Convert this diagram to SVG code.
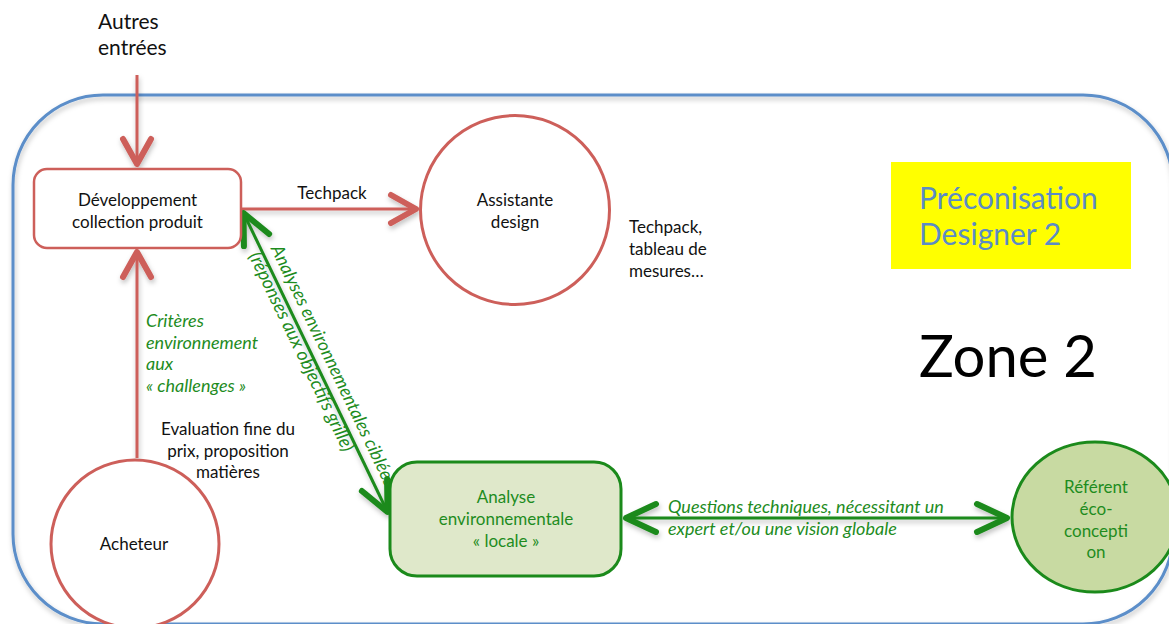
<svg xmlns="http://www.w3.org/2000/svg" width="1169" height="624" viewBox="0 0 1169 624">
<defs>
<style>
.t{font-family:Lato,"Open Sans","Liberation Sans",sans-serif;font-size:17px;fill:#111}
.c{text-anchor:middle}
.g{fill:#1e8c1e}
.i{font-style:italic;font-size:18px}
.red{fill:none;stroke:#cd5f5a;stroke-width:3}
.grn{fill:none;stroke:#1b8a1b;stroke-width:3}
</style>
<filter id="sh" x="-10%" y="-10%" width="120%" height="130%">
<feDropShadow dx="1" dy="3" stdDeviation="2.5" flood-color="#000" flood-opacity="0.25"/>
</filter>
<marker id="chevR" markerUnits="userSpaceOnUse" viewBox="-36 -20 42 40" refX="0" refY="0" markerWidth="42" markerHeight="40" orient="auto-start-reverse">
<path d="M-25,-14 L0,0 L-25,14" fill="none" stroke="#cd5f5a" stroke-width="6" stroke-linecap="round" stroke-linejoin="round"/>
</marker>
<marker id="chevG" markerUnits="userSpaceOnUse" viewBox="-40 -20 46 40" refX="0" refY="0" markerWidth="46" markerHeight="40" orient="auto-start-reverse">
<path d="M-30,-14 L0,0 L-30,14" fill="none" stroke="#1b8a1b" stroke-width="6" stroke-linecap="round" stroke-linejoin="round"/>
</marker>
</defs>
<rect width="1169" height="624" fill="#fff"/>

<g id="zone-frame">
<rect x="13" y="95" width="1160" height="529" rx="90" fill="none" stroke="#5b8ec9" stroke-width="3" filter="url(#sh)"/>
</g>

<g id="connectors">
<g filter="url(#sh)">
<line class="red" x1="137" y1="75" x2="137" y2="164" marker-end="url(#chevR)"/>
<line class="red" x1="137" y1="458" x2="137" y2="252" marker-end="url(#chevR)"/>
<line class="red" x1="241" y1="209" x2="416" y2="209" marker-end="url(#chevR)"/>
<line class="grn" x1="243.5" y1="213" x2="387.5" y2="512" marker-start="url(#chevG)" marker-end="url(#chevG)"/>
<line class="grn" x1="626" y1="518" x2="1007" y2="518" marker-start="url(#chevG)" marker-end="url(#chevG)"/>
</g>
<text class="t" x="98" y="29" style="font-size:21px">Autres</text>
<text class="t" x="98" y="55" style="font-size:21px">entrées</text>
<text class="t c" x="332" y="199">Techpack</text>
<text class="t g i" x="146" y="327">Critères</text>
<text class="t g i" x="146" y="349">environnement</text>
<text class="t g i" x="146" y="370">aux</text>
<text class="t g i" x="146" y="392">« challenges »</text>
<text class="t c" x="228" y="435">Evaluation fine du</text>
<text class="t c" x="228" y="457">prix, proposition</text>
<text class="t c" x="228" y="478">matières</text>
<g transform="translate(242,210) rotate(64.27)">
<text class="t g i" x="47" y="-9">Analyses environnementales ciblées</text>
<text class="t g i" x="44" y="14" style="font-size:18.5px">(réponses aux objectifs grille)</text>
</g>
<text class="t g i" x="668" y="513">Questions techniques, nécessitant un</text>
<text class="t g i" x="668" y="535">expert et/ou une vision globale</text>
</g>

<g id="node-developpement">
<rect x="34" y="169" width="207" height="79" rx="13" fill="#fff" stroke="#cd5f5a" stroke-width="2.5"/>
<text class="t c" x="137.5" y="206">Développement</text>
<text class="t c" x="137.5" y="228">collection produit</text>
</g>

<g id="node-assistante">
<circle cx="515" cy="210" r="94.5" fill="#fff" stroke="#cd5f5a" stroke-width="3"/>
<text class="t c" x="515" y="206">Assistante</text>
<text class="t c" x="515" y="228">design</text>
</g>

<g id="note-techpack">
<text class="t" x="629" y="233">Techpack,</text>
<text class="t" x="629" y="255">tableau de</text>
<text class="t" x="629" y="277">mesures…</text>
</g>

<g id="node-acheteur">
<circle cx="135" cy="544" r="84" fill="#fff" stroke="#cd5f5a" stroke-width="3"/>
<text class="t c" x="134" y="550">Acheteur</text>
</g>

<g id="node-analyse">
<rect x="390" y="462" width="231" height="114" rx="27" fill="#dfe8ca" stroke="#1b8a1b" stroke-width="3"/>
<text class="t c g" x="506" y="503">Analyse</text>
<text class="t c g" x="506" y="525">environnementale</text>
<text class="t c g" x="506" y="547">« locale »</text>
</g>

<g id="node-referent">
<ellipse cx="1095" cy="517" rx="83" ry="75" fill="#c8daa2" stroke="#1b8a1b" stroke-width="3"/>
<text class="t c g" x="1096" y="493">Référent</text>
<text class="t c g" x="1096" y="515">éco-</text>
<text class="t c g" x="1096" y="537">concepti</text>
<text class="t c g" x="1096" y="558">on</text>
</g>

<g id="label-preconisation">
<rect x="891" y="162" width="240" height="107" fill="#ffff00"/>
<text class="t" x="919" y="209" style="font-size:30px;fill:#5b8bc6">Préconisation</text>
<text class="t" x="919" y="245" style="font-size:30px;fill:#5b8bc6">Designer 2</text>
</g>

<g id="label-zone">
<text class="t" x="919" y="377" style="font-size:58px;fill:#000">Zone 2</text>
</g>
</svg>
